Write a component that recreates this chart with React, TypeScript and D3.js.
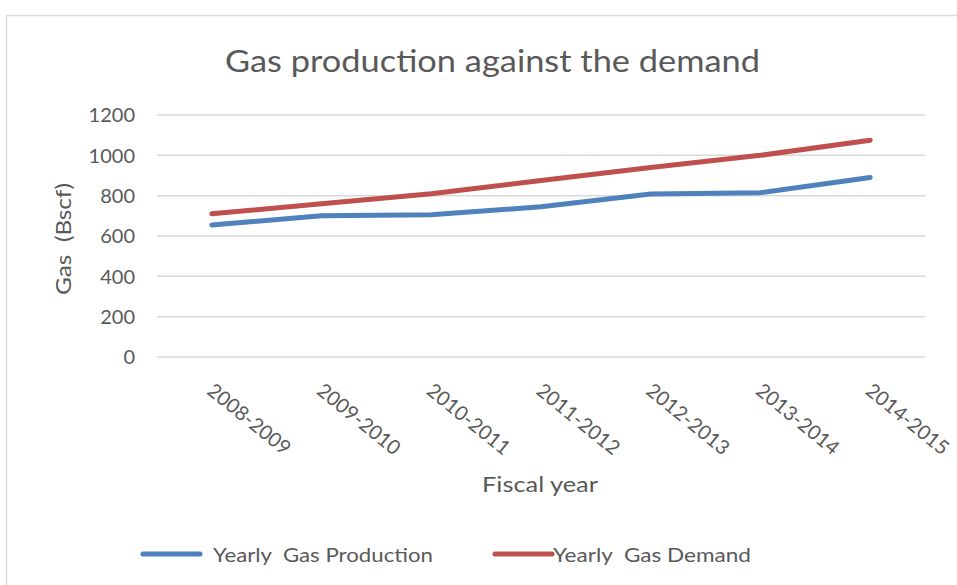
import React from 'react';
import * as d3 from 'd3';

const years = ['2008-2009', '2009-2010', '2010-2011', '2011-2012', '2012-2013', '2013-2014', '2014-2015'];
const production = [655, 700, 705, 745, 808, 815, 890];
const demand = [710, 760, 810, 875, 940, 1000, 1075];
const yTicks = [0, 200, 400, 600, 800, 1000, 1200];

const series = [
    {name: 'Yearly  Gas Production', values: production, color: '#4f81bd'},
    {name: 'Yearly  Gas Demand', values: demand, color: '#c0504d'},
];

const font = 'Lato, "Open Sans", sans-serif';
const textColor = '#595959';

export default function App() {
    const width = 957, height = 585;
    const margin = {top: 115, right: 32, bottom: 228, left: 157};

    const xScale = d3.scaleBand()
        .domain(years)
        .range([margin.left, width - margin.right]);
    const yScale = d3.scaleLinear()
        .domain([0, 1200])
        .range([height - margin.bottom, margin.top]);

    const line = d3.line<number>()
        .x((d, i) => xScale(years[i])! + xScale.bandwidth() / 2)
        .y(d => yScale(d));

    // legend layout: line start, line end, text start, text length
    const legend = [
        {x1: 143, x2: 200, tx: 213, len: 220},
        {x1: 495, x2: 552, tx: 553, len: 198},
    ];

    return (
        <div style={{position: 'absolute', left: 0, top: 0}}>
            <svg width={width} height={height} style={{display: 'block'}}>
                <rect x={0} y={0} width={width} height={height} fill="#fff"/>
                <rect x={6.5} y={15.5} width={width} height={height} fill="#fff" stroke="#d9d9d9" strokeWidth={1.5}/>

                <text x={225} y={72} fontFamily={font} fontSize={30} fill={textColor}
                      textLength={535} lengthAdjust="spacingAndGlyphs">Gas production against the demand</text>

                {/* grid + y ticks */}
                {yTicks.map(t => (
                    <g key={t}>
                        <line x1={margin.left} x2={width - margin.right} y1={yScale(t)} y2={yScale(t)}
                              stroke="#d9d9d9" strokeWidth={1.5}/>
                        <text x={135} y={yScale(t)} dy="0.36em" textAnchor="end" fontFamily={font}
                              fontSize={20} fill={textColor}>{t}</text>
                    </g>
                ))}

                <text transform={`translate(64, 239) rotate(-90)`} x={-56} dy="0.35em"
                      fontFamily={font} fontSize={21} fill={textColor} textLength={112}
                      lengthAdjust="spacingAndGlyphs" style={{whiteSpace: 'pre'}}>Gas  (Bscf)</text>

                {/* x labels */}
                {years.map(y => (
                    <text key={y} transform={`translate(${xScale(y)! + xScale.bandwidth() / 2 - 6}, 393) rotate(39)`}
                          textAnchor="start" fontFamily={font} fontSize={20} fill={textColor}>{y}</text>
                ))}

                <text x={482} y={492} fontFamily={font} fontSize={21} fill={textColor}
                      textLength={116} lengthAdjust="spacingAndGlyphs">Fiscal year</text>

                {series.map(s => (
                    <path key={s.name} d={line(s.values)!} fill="none" stroke={s.color} strokeWidth={5}
                          strokeLinecap="round" strokeLinejoin="round"/>
                ))}

                {/* legend */}
                {series.map((s, i) => (
                    <g key={s.name} transform="translate(0, 554)">
                        <line x1={legend[i].x1} x2={legend[i].x2} y1={0} y2={0} stroke={s.color} strokeWidth={5}
                              strokeLinecap="round"/>
                        <text x={legend[i].tx} y={8} fontFamily={font} fontSize={20} fill={textColor}
                              textLength={legend[i].len} lengthAdjust="spacingAndGlyphs"
                              style={{whiteSpace: 'pre'}}>{s.name}</text>
                    </g>
                ))}
            </svg>
        </div>
    );
}
